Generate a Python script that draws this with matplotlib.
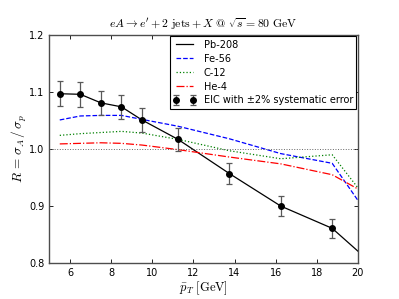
import matplotlib
matplotlib.use('Agg')
import matplotlib.pyplot as plt
import numpy as np

plt.rcParams['mathtext.fontset'] = 'cm'
plt.rcParams['font.family'] = ['DejaVu Sans']

# curves (x in GeV)
pt = [5.5, 6.5, 7.5, 8.5, 9.5, 11.25, 13.75, 16.25, 18.75, 20.0]
pb208 = [1.097, 1.096, 1.081, 1.074, 1.051, 1.017, 0.957, 0.900, 0.861, 0.821]
fe56 = [1.051, 1.058, 1.059, 1.059, 1.052, 1.040, 1.018, 0.992, 0.975, 0.910]
c12 = [1.024, 1.027, 1.029, 1.031, 1.028, 1.017, 0.997, 0.983, 0.990, 0.932]
he4 = [1.009, 1.010, 1.011, 1.010, 1.007, 0.999, 0.986, 0.974, 0.955, 0.930]

# EIC pseudo-data points
eic_pt = [5.5, 6.5, 7.5, 8.5, 9.5, 11.25, 13.75, 16.25, 18.75]
eic_r = [1.097, 1.096, 1.081, 1.074, 1.051, 1.017, 0.957, 0.900, 0.861]
eic_err = [0.02 * v for v in eic_r]

fig = plt.figure(figsize=(3.99, 2.99), dpi=100)
ax = fig.add_axes([0.124, 0.12, 0.773, 0.763])

ax.plot(pt, pb208, color='k', lw=0.9, label='Pb-208')
ax.plot(pt, fe56, color='b', lw=0.9, ls='--', label='Fe-56')
ax.plot(pt, c12, color='g', lw=0.9, ls=':', label='C-12')
ax.plot(pt, he4, color='r', lw=0.9, ls='-.', label='He-4')
ax.axhline(1.0, color='0.4', lw=0.7, ls=':')
ax.errorbar(eic_pt, eic_r, yerr=eic_err, fmt='o', color='k', ms=4,
            ecolor='0.35', elinewidth=0.9, capsize=2.5, capthick=0.9,
            label='EIC with \u00b12% systematic error')

ax.set_xlim(5, 20)
ax.set_ylim(0.8, 1.2)
ax.set_xticks(np.arange(6, 21, 2))
ax.set_yticks([0.8, 0.9, 1.0, 1.1, 1.2])
ax.tick_params(direction='in', top=True, right=True, labelsize=7, length=3, width=0.6)
for s in ax.spines.values():
    s.set_linewidth(1.0)
    s.set_color('0.3')

ax.set_xlabel(r'$\bar{p}_T\ [\mathrm{GeV}]$', fontsize=9, labelpad=1)
ax.set_ylabel(r'$R \,=\, \sigma_A \,/\, \sigma_p$', fontsize=9.5, labelpad=0)
ax.set_title(r"$eA \rightarrow e' + 2\ \mathrm{jets} + X\ @\ \sqrt{s}=80\ \mathrm{GeV}$",
             fontsize=8.5, pad=5)

leg = ax.legend(loc='upper right', fontsize=7, numpoints=2, fancybox=False,
                framealpha=1, edgecolor='k', borderaxespad=0.15, handlelength=2.3,
                labelspacing=0.4, borderpad=0.35)
leg.get_frame().set_linewidth(0.8)

fig.savefig('out.png', dpi=100)
